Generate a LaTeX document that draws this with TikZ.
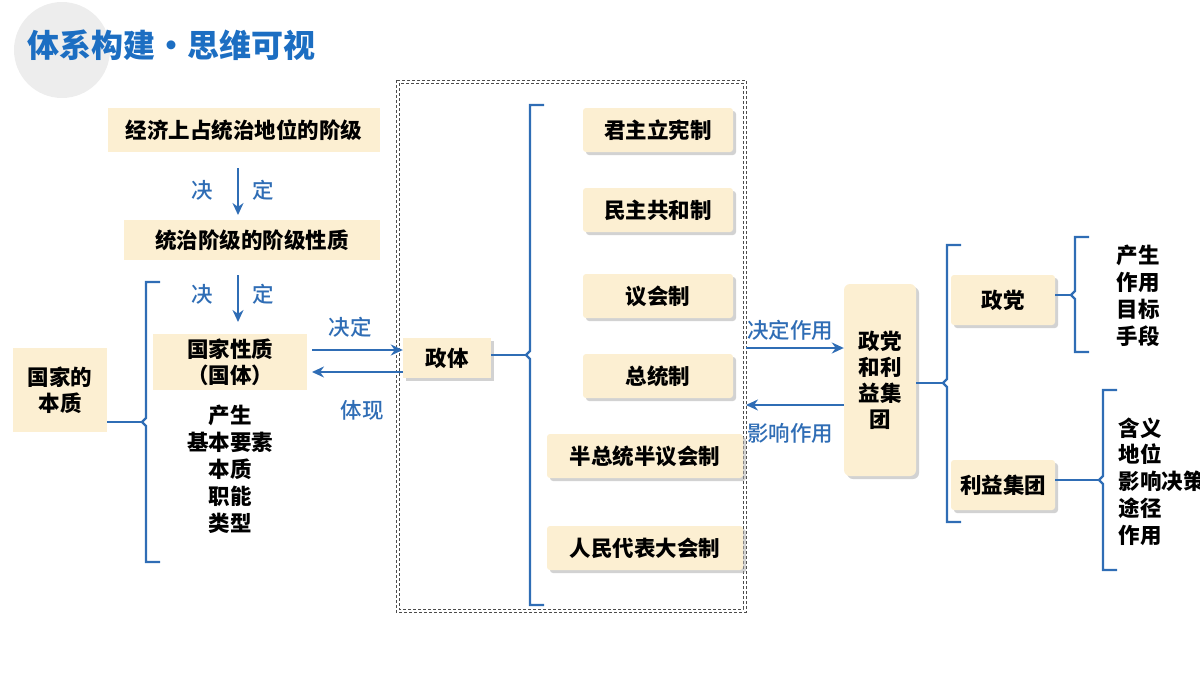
\documentclass[tikz,border=0pt]{standalone}
\usepackage{fontspec}
\setmainfont{Noto Sans CJK SC}
\newfontfamily\cjkb{Noto Sans CJK SC Black}
\newfontfamily\cjkm{Noto Sans CJK SC Medium}
\usetikzlibrary{shadows,arrows.meta}
\definecolor{boxfill}{HTML}{FCEFD2}
\definecolor{lineblue}{HTML}{2F6DB5}
\definecolor{titleblue}{HTML}{1C6EC2}
\tikzset{
  box/.style={fill=boxfill,font=\cjkb\fontsize{21.5}{26}\selectfont,align=center,inner sep=0pt},
  sbox/.style={box,rounded corners=3pt,drop shadow={shadow xshift=3pt,shadow yshift=-3pt,fill=black!35,opacity=.5}},
  item/.style={font=\cjkb\fontsize{21.5}{26}\selectfont},
  lbl/.style={text=lineblue,font=\cjkm\fontsize{21.5}{26}\selectfont},
  arr/.style={draw=lineblue,line width=2.4pt,-{Stealth[length=12pt,width=11pt]}},
  brk/.style={draw=lineblue,line width=2.2pt},
}
% bracket: x, top, bottom, middle
\newcommand{\bluebrk}[4]{\draw[brk] (#1+14,#2) -- (#1,#2) -- (#1,#4-4) -- (#1-4,#4) -- (#1,#4+4) -- (#1,#3) -- (#1+14,#3);}
\begin{document}
\begin{tikzpicture}[x=1pt,y=-1pt]
\useasboundingbox (0,0) rectangle (1200,675);
\clip (0,0) rectangle (1200,675);
\fill[black!7] (62,50) circle (48);
\node[text=titleblue,font=\cjkb\fontsize{32}{38}\selectfont,anchor=west] (title) at (24,45) {体系构建•思维可视};

% left column
\node[box,minimum width=272,minimum height=44] (jingji) at (244,130) {经济上占统治地位的阶级};
\node[box,minimum width=256,minimum height=40] (tongzhi) at (252,240) {统治阶级的阶级性质};
\node[box,minimum width=94,minimum height=84] (benzhi) at (60,390) {国家的\\本质};
\node[box,minimum width=154,minimum height=56] (guoti) at (230,362) {国家性质\\（国体）};
\draw[arr,line width=2.6pt] (238,168) -- (238,215);
\draw[arr,line width=2.6pt] (238,275) -- (238,322);
\node[lbl] (jue1) at (202,190) {决};
\node[lbl] (ding1) at (263,190) {定};
\node[lbl] (jue2) at (202,294) {决};
\node[lbl] (ding2) at (263,294) {定};
\bluebrk{146}{282}{562}{422}
\draw[brk] (benzhi.east) ++(0,32) -- (142,422);
\foreach \t [count=\i] in {产生,基本要素,本质,职能,类型}
  \node[item] (gt\i) at (230,388+27*\i) {\t};

% zhengti
\draw[densely dashed,black!70] (396,80) rectangle (746,612);
\draw[densely dashed,black!70] (399,83) rectangle (743,609);
\node[box,minimum width=88,minimum height=40,drop shadow={shadow xshift=3pt,shadow yshift=-3pt,fill=black!35,opacity=.5}] (zhengti) at (447,358) {政体};
\draw[arr] (312,350) -- (zhengti.west |- 0,350);
\draw[arr] (zhengti.west |- 0,372) -- (312,372);
\node[lbl] (jueding) at (350,327) {决定};
\node[lbl] (tixian) at (362,410) {体现};
\bluebrk{530}{105}{605}{355}
\draw[brk] (zhengti.east) ++(0,-3) -- (526,355);
\node[sbox,minimum width=150,minimum height=44] (junzhu) at (658,130) {君主立宪制};
\node[sbox,minimum width=150,minimum height=44] (minzhu) at (658,210) {民主共和制};
\node[sbox,minimum width=150,minimum height=44] (yihui) at (658,296) {议会制};
\node[sbox,minimum width=150,minimum height=44] (zongtong) at (658,376) {总统制};
\node[sbox,minimum width=196,minimum height=44] (banzong) at (645,456) {半总统半议会制};
\node[sbox,minimum width=196,minimum height=44] (renda) at (645,548) {人民代表大会制};

% parties
\node[sbox,rounded corners=6pt,minimum width=72,minimum height=192] (dangtuan) at (880,380) {政党\\和利\\益集\\团};
\draw[arr] (746,348) -- (dangtuan.west |- 0,348);
\draw[arr] (dangtuan.west |- 0,405) -- (746,405);
\node[lbl] (zuoyong1) at (790,330) {决定作用};
\node[lbl] (zuoyong2) at (790,433) {影响作用};
\bluebrk{947}{245}{522}{383}
\draw[brk] (dangtuan.east) ++(0,3) -- (943,383);
\node[sbox,minimum width=104,minimum height=50] (zhengdang) at (1003,300) {政党};
\node[sbox,minimum width=104,minimum height=50] (liyi) at (1003,485) {利益集团};
\bluebrk{1075}{237}{352}{295}
\draw[brk] (zhengdang.east |- 0,295) -- (1071,295);
\foreach \t [count=\i] in {产生,作用,目标,手段}
  \node[item] (zd\i) at (1138,228+27*\i) {\t};
\bluebrk{1103}{390}{570}{480}
\draw[brk] (liyi.east |- 0,480) -- (1099,480);
\foreach \t [count=\i] in {含义,地位,影响决策,途径,作用}
  \node[item,anchor=west] (ly\i) at (1115,401+26.8*\i) {\t};
\end{tikzpicture}
\end{document}
